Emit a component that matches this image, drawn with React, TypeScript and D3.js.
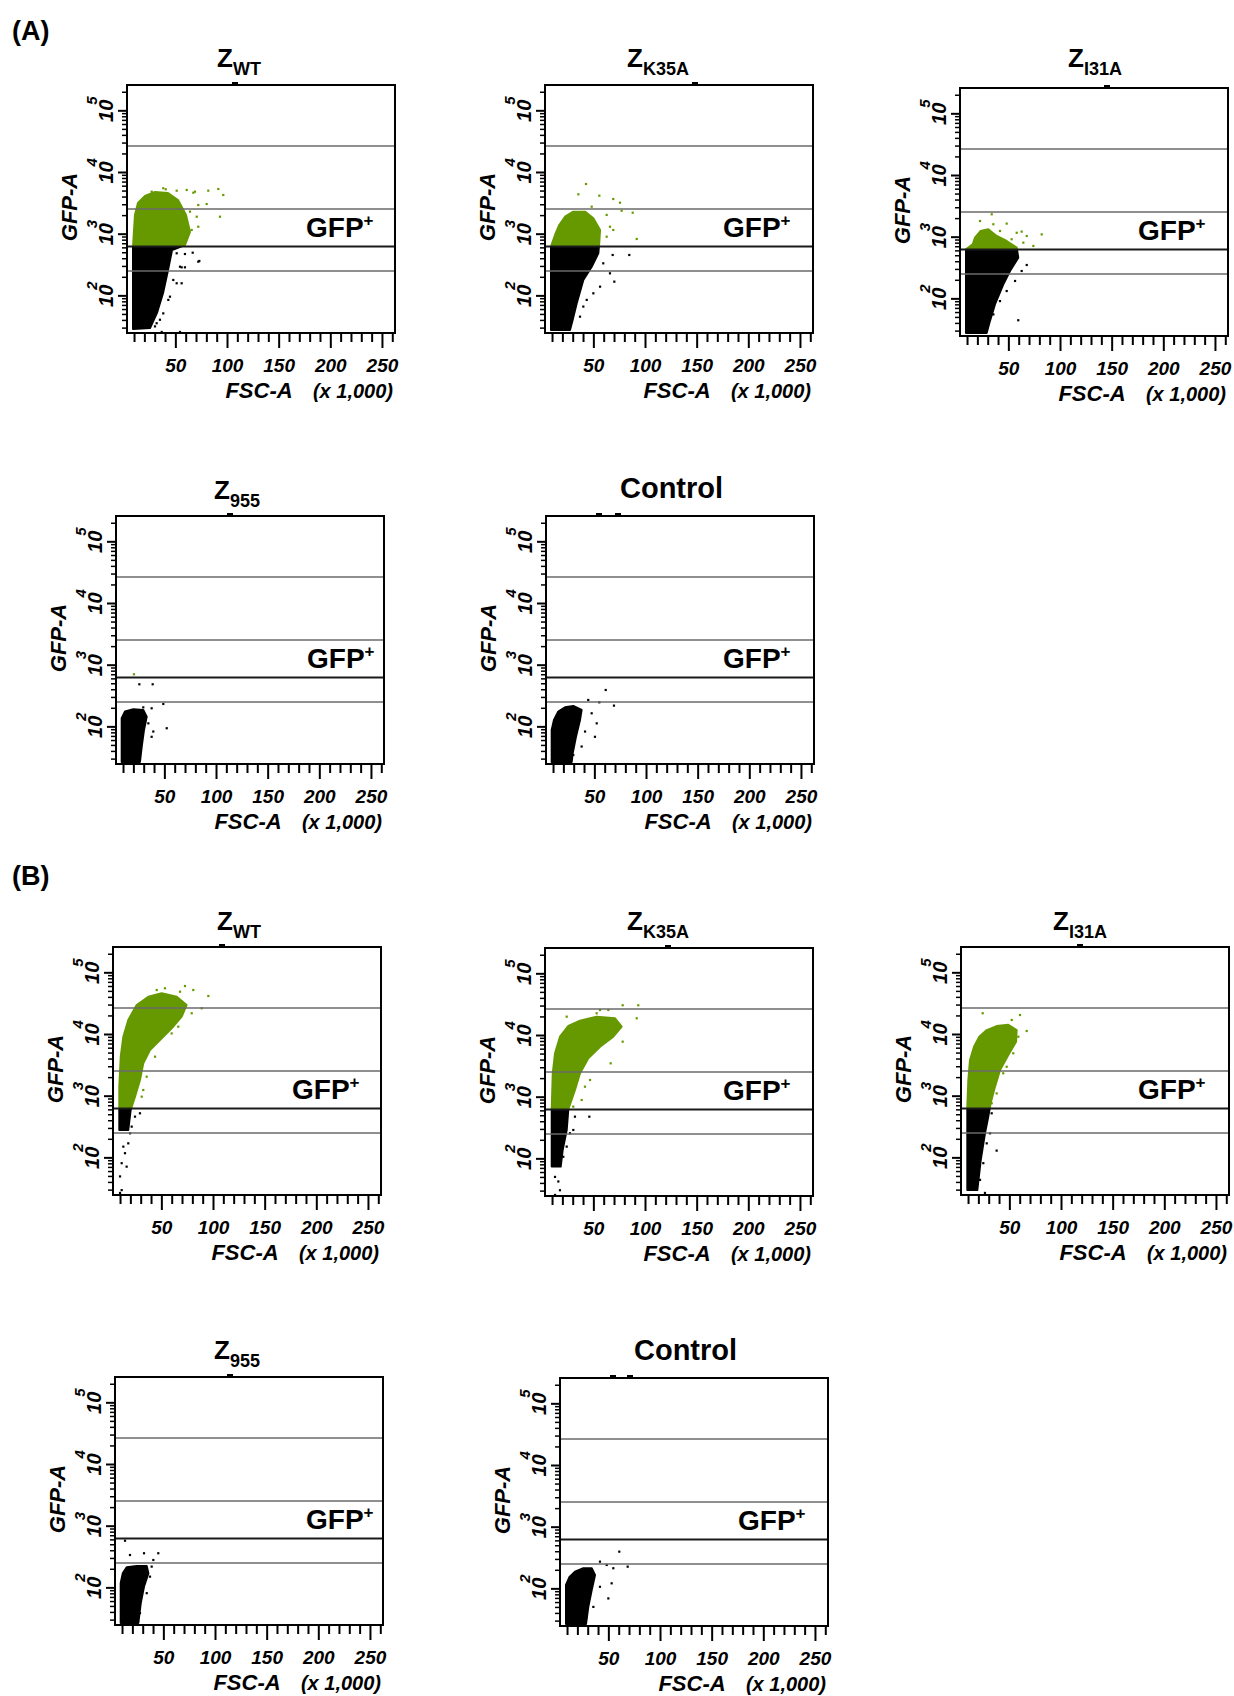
import React from "react";
import * as d3 from "d3";

const width = 1234;
const height = 1696;
const plotW = 268;
const plotH = 248;
const FONT = "'Liberation Sans', Arial, Helvetica, sans-serif";
const GREEN = "#669900";

// axes: FSC-A in thousands (linear), GFP-A raw (log)
const fscDomain = [2.7, 262.144];
const gfpDomain = [25, 262144];
const gateLevels = [26900, 2560, 633, 253];
const gfpCut = 633; // GFP+ lower bound, events above drawn green

const xTickValues = d3.range(10, 261, 10);
const xLabelValues = [50, 100, 150, 200, 250];
const yDecades = [2, 3, 4, 5];
const yMinorTicks = [30, 40, 50, 60, 70, 80, 90, 200, 300, 400, 500, 600, 700, 800, 900,
  2000, 3000, 4000, 5000, 6000, 7000, 8000, 9000, 20000, 30000, 40000, 50000, 60000, 70000,
  80000, 90000, 200000];

// dense populations as outlines [FSC-A (k), GFP-A], sparse events as points

// (A) Z WT
const wtA_cloud = [[8.5, 29], [8.5, 620], [10.4, 2050], [13.3, 3200], [20.1, 4160], [29.8, 4830],
  [42.4, 4650], [52.1, 3580], [59.8, 2050], [63.7, 1085], [58.8, 667], [46.3, 553], [42.4, 262],
  [37.6, 111], [31.7, 53], [25, 30]];
const wtA_events = [[40.2, 5340], [50.8, 5070], [60.5, 5200], [66.9, 4700], [81.4, 5070],
  [91.1, 5400], [95.9, 4320], [92.7, 1920], [71.7, 2970], [70.2, 1920], [65.3, 1170], [79.8, 3080],
  [55.6, 1170], [60.5, 857], [37.8, 5550], [68.5, 4890], [63.7, 2320], [71.7, 1320], [54, 805],
  [26.6, 4890], [18.5, 3820],
  [47.5, 590], [58.8, 477], [66.3, 501], [72.7, 368], [55.6, 290], [58.8, 290], [50.8, 160],
  [55.6, 160], [42.7, 86], [34.6, 41], [54, 26], [36.3, 26], [29.8, 32], [50.8, 490], [54, 297],
  [47.5, 181], [44.3, 97], [37.8, 52], [31.4, 36], [71.7, 358]];

// (A) Z K35A
const k35A_cloud = [[8.5, 28], [8.5, 627], [12.4, 970], [16.5, 1410], [22.1, 1920], [30.1, 2320],
  [41.4, 2320], [49.5, 1810], [56, 1170], [55.3, 755], [54.3, 490], [47.9, 297], [39.8, 181],
  [33.4, 76], [29.5, 41], [26.9, 28]];
const k35A_events = [[42.4, 6510], [35, 4430], [55.3, 4210], [68.8, 3720], [75.3, 3240],
  [47.9, 2790], [76.9, 2400], [87.6, 2230], [62.4, 2050], [65.6, 1320], [68.8, 1170], [91.5, 836],
  [62.4, 910], [52.7, 857], [68.2, 460], [84.3, 460], [59.1, 337], [65.6, 232], [69.8, 170],
  [56, 141], [49.5, 110], [43.1, 86], [39.8, 67], [36.6, 46]];

// (A) Z I31A
const i31A_cloud = [[8.5, 28], [8.5, 637], [15, 767], [17.2, 982], [22.7, 1260], [30.1, 1340],
  [38.2, 1045], [47.9, 867], [57.6, 677], [59.1, 466], [51.1, 283], [44.6, 172], [36.6, 82],
  [31.7, 44], [28.5, 28]];
const i31A_events = [[33.4, 2350], [22.1, 1830], [35, 1620], [47.9, 1660], [62.4, 1230],
  [81.8, 1110], [67.3, 1045], [57.6, 1180], [41.4, 1260], [52.7, 925], [73.7, 720], [64, 815],
  [67.3, 354], [62.4, 283], [56, 195], [59.1, 45], [47.9, 134], [41.4, 92], [35, 56]];

// (A) Z 955
const z955A_cloud = [[8.2, 27], [8.2, 138], [11.4, 177], [19.5, 193], [29.1, 188], [32.4, 146],
  [29.8, 89], [27.6, 48], [25.9, 27]];
const z955A_events = [[20.1, 712], [25.3, 490], [38.2, 490], [48.5, 235], [29.1, 207],
  [37.2, 200], [51.8, 95], [38.8, 84], [37.2, 69], [34, 114]];

// (A) Control
const ctrlA_cloud = [[8.2, 27], [8.2, 89], [10.4, 129], [14.6, 177], [21.1, 208], [29.1, 218],
  [37.2, 188], [35.6, 129], [31.7, 69], [28.5, 37], [27.6, 27]];
const ctrlA_events = [[60.5, 396], [68.5, 221], [54.3, 250], [43.6, 273], [46.9, 166],
  [51.8, 114], [50.1, 69], [37.2, 48], [29.1, 35], [40.5, 84]];

// (B) Z WT
const wtB_cloud = [[8.8, 283], [8.8, 1430], [10.2, 4370], [12.7, 9200], [17.5, 17200],
  [25.6, 30100], [36.9, 41000], [49.8, 46500], [64.4, 41000], [74, 30100], [69.2, 19500],
  [59.5, 12600], [48.2, 8150], [38.5, 5610], [32, 3410], [28.8, 1830], [24, 982], [19.8, 597],
  [17.5, 283]];
const wtB_events = [[72.4, 61100], [80.4, 52600], [95, 42100], [88.6, 26600], [53, 56100],
  [45, 52600], [67.6, 49400], [78.9, 22100], [65.9, 13400], [59.5, 10400], [43.4, 4370],
  [35.3, 2070], [32, 1260], [30.5, 982], [28.8, 528], [24, 466], [20.8, 321], [19.2, 250],
  [17.5, 172], [12.7, 152], [14.3, 119], [11.1, 82], [15.9, 72], [9.5, 50], [11.1, 30], [9.5, 27]];

// (B) Z K35A
const k35B_cloud = [[9.2, 75], [9.2, 637], [10.2, 2440], [12.4, 5140], [17.2, 9570],
  [25.3, 14300], [36.6, 17400], [52.7, 20200], [70.5, 19000], [76.9, 13900], [68.8, 9570],
  [56, 6590], [44.6, 4270], [36.6, 2440], [31.7, 1310], [25.3, 637], [23.7, 294], [19.8, 139],
  [17.9, 75]];
const k35B_events = [[77.9, 30900], [93, 30900], [91.5, 19000], [64, 25900], [56, 25900],
  [23.7, 20200], [77.9, 7940], [66.3, 3540], [46.3, 1900], [41.4, 1480], [38.2, 900], [30.1, 702],
  [52.7, 22900], [45.6, 483], [31.7, 483], [30.1, 294], [26.9, 260], [23.7, 158], [20.4, 108],
  [12.4, 51], [17.2, 31], [12.4, 26], [15.6, 43]];

// (B) Z I31A
const i31B_cloud = [[8.8, 30], [8.8, 677], [9.8, 1830], [11.4, 3860], [15.3, 6340], [20.4, 9200],
  [27.6, 11800], [37.2, 13700], [48.5, 14400], [56.6, 11800], [56, 7640], [48.5, 4660],
  [40.5, 2660], [35.6, 1430], [31.4, 767], [29.1, 466], [25.9, 250], [21.8, 92], [18.5, 30]];
const i31B_events = [[23.7, 22100], [59.8, 20700], [51.8, 17200], [66.3, 11400], [58.2, 9200],
  [53.3, 4960], [46.9, 3000], [43.6, 2350], [37.2, 1110], [32.4, 767], [37.2, 131], [32.4, 528],
  [30.8, 250], [27.6, 172], [24.3, 82], [25.9, 27], [21.1, 44]];

// (B) Z 955
const z955B_cloud = [[8.2, 27], [8.2, 119], [10.2, 172], [14, 216], [23.7, 226], [33.4, 226],
  [35, 172], [30.8, 105], [27.6, 56], [25.3, 27]];
const z955B_events = [[12.4, 582], [17.2, 341], [30.8, 364], [44.6, 364], [39.8, 283],
  [38.2, 221], [36.6, 152], [33.4, 82], [26.9, 39]];

// (B) Control
const ctrlB_cloud = [[8.5, 27], [8.5, 116], [11.7, 154], [17.2, 190], [25.3, 216], [33.4, 216],
  [36.6, 168], [33.4, 96], [30.1, 51], [27.9, 27]];
const ctrlB_events = [[60.1, 401], [68.2, 229], [54.3, 216], [41.4, 276], [47.9, 244],
  [52.7, 123], [49.5, 70], [41.4, 108], [35, 51], [28.5, 35]];

const panels = [
  { id: "a1", name: "Z", sub: "WT", left: 127, top: 85, titleDx: 90, titleDy: -18, labelDx: 179, marks: [108], cloud: wtA_cloud, events: wtA_events },
  { id: "a2", name: "Z", sub: "K35A", left: 545, top: 85, titleDx: 82, titleDy: -18, labelDx: 178, marks: [150], cloud: k35A_cloud, events: k35A_events },
  { id: "a3", name: "Z", sub: "I31A", left: 960, top: 88, titleDx: 108, titleDy: -21, labelDx: 178, marks: [147], cloud: i31A_cloud, events: i31A_events },
  { id: "a4", name: "Z", sub: "955", left: 116, top: 516, titleDx: 98, titleDy: -17, labelDx: 191, marks: [114], cloud: z955A_cloud, events: z955A_events },
  { id: "a5", name: "Control", sub: "", left: 546, top: 516, titleDx: 74, titleDy: -18, labelDx: 177, marks: [53, 72], cloud: ctrlA_cloud, events: ctrlA_events },
  { id: "b1", name: "Z", sub: "WT", left: 113, top: 947, titleDx: 104, titleDy: -17, labelDx: 179, marks: [109], cloud: wtB_cloud, events: wtB_events },
  { id: "b2", name: "Z", sub: "K35A", left: 545, top: 948, titleDx: 82, titleDy: -18, labelDx: 178, marks: [123], cloud: k35B_cloud, events: k35B_events },
  { id: "b3", name: "Z", sub: "I31A", left: 961, top: 947, titleDx: 92, titleDy: -17, labelDx: 177, marks: [119], cloud: i31B_cloud, events: i31B_events },
  { id: "b4", name: "Z", sub: "955", left: 115, top: 1377, titleDx: 99, titleDy: -18, labelDx: 191, marks: [115], cloud: z955B_cloud, events: z955B_events },
  { id: "b5", name: "Control", sub: "", left: 560, top: 1378, titleDx: 74, titleDy: -18, labelDx: 178, marks: [53, 70], cloud: ctrlB_cloud, events: ctrlB_events },
];

const sectionLabels = [
  { text: "(A)", x: 12, y: 40 },
  { text: "(B)", x: 12, y: 885 },
];

function FlowPanel({ p }) {
  const x = d3.scaleLinear().domain(fscDomain).range([0, plotW]);
  const y = d3.scaleLog().domain(gfpDomain).range([plotH, 0]);
  const cutY = y(gfpCut);
  const outline = d3.line()
    .x(d => x(d[0]))
    .y(d => y(d[1]))
    .curve(d3.curveLinearClosed);
  const cloudPath = outline(p.cloud) || "";

  return (
    <g transform={`translate(${p.left},${p.top})`} fontFamily={FONT}>
      <defs>
        <clipPath id={`hi-${p.id}`}>
          <rect x={1} y={1} width={plotW - 2} height={cutY - 1} />
        </clipPath>
        <clipPath id={`lo-${p.id}`}>
          <rect x={1} y={cutY} width={plotW - 2} height={plotH - cutY - 1} />
        </clipPath>
      </defs>

      {/* populations */}
      <path d={cloudPath} fill={GREEN} stroke={GREEN} strokeWidth={2} strokeLinejoin="round"
        clipPath={`url(#hi-${p.id})`} />
      <path d={cloudPath} fill="#000" stroke="#000" strokeWidth={2} strokeLinejoin="round"
        clipPath={`url(#lo-${p.id})`} />
      {p.events.map((d, i) => (
        <rect key={i} x={x(d[0]) - 1.1} y={y(d[1]) - 1.1} width={2.2} height={2.2}
          fill={d[1] > gfpCut ? GREEN : "#000"} />
      ))}

      {/* gates */}
      {gateLevels.map(g => (
        <line key={g} x1={0} x2={plotW} y1={y(g)} y2={y(g)}
          stroke={g === gfpCut ? "#1a1a1a" : "#6a6a6a"} strokeWidth={g === gfpCut ? 2 : 1.5} />
      ))}
      <rect x={0} y={0} width={plotW} height={plotH} fill="none" stroke="#000" strokeWidth={2} />
      {p.marks.map(m => (
        <rect key={m} x={m - 3} y={-3} width={6} height={3} fill="#000" />
      ))}

      {/* x axis */}
      {xTickValues.map(t => (
        <line key={t} x1={x(t)} x2={x(t)} y1={plotH} y2={plotH + (t % 50 === 0 ? 15 : 9)}
          stroke="#000" strokeWidth={2} />
      ))}
      {xLabelValues.map(t => (
        <text key={t} x={x(t)} y={plotH + 39} textAnchor="middle" fontSize={19}
          fontWeight="bold" fontStyle="italic">{t}</text>
      ))}
      <text x={132} y={plotH + 65} textAnchor="middle" fontSize={22} fontWeight="bold"
        fontStyle="italic">FSC-A</text>
      <text x={266} y={plotH + 65} textAnchor="end" fontSize={20} fontWeight="bold"
        fontStyle="italic">(x 1,000)</text>

      {/* y axis */}
      {yMinorTicks.map(t => (
        <line key={t} x1={0} x2={-5} y1={y(t)} y2={y(t)} stroke="#000" strokeWidth={1.5} />
      ))}
      {yDecades.map(e => {
        const ty = y(Math.pow(10, e));
        return (
          <g key={e}>
            <line x1={0} x2={-9} y1={ty} y2={ty} stroke="#000" strokeWidth={2} />
            <text transform={`translate(-14,${ty}) rotate(-90)`} textAnchor="middle" fontSize={20}
              fontWeight="bold" fontStyle="italic">10</text>
            <text transform={`translate(-30,${ty}) rotate(-90)`} x={6} fontSize={15}
              fontWeight="bold" fontStyle="italic">{e}</text>
          </g>
        );
      })}
      <text transform={`translate(-50,${plotH / 2 - 2}) rotate(-90)`} textAnchor="middle"
        fontSize={22} fontWeight="bold" fontStyle="italic">GFP-A</text>

      {/* titles */}
      {p.sub ? (
        <text x={p.titleDx} y={p.titleDy} fontSize={26} fontWeight="bold">
          {p.name}
          <tspan dy={8} fontSize={18}>{p.sub}</tspan>
        </text>
      ) : (
        <text x={p.titleDx} y={p.titleDy} fontSize={29} fontWeight="bold">{p.name}</text>
      )}
      <text x={p.labelDx} y={cutY - 9} fontSize={28} fontWeight="bold">
        GFP<tspan dy={-11} fontSize={17}>+</tspan>
      </text>
    </g>
  );
}

export default function App() {
  return (
    <svg width={width} height={height} viewBox={`0 0 ${width} ${height}`}
      style={{ position: "absolute", left: 0, top: 0, background: "#fff" }}>
      <rect width={width} height={height} fill="#fff" />
      {sectionLabels.map(s => (
        <text key={s.text} x={s.x} y={s.y} fontFamily={FONT} fontSize={27} fontWeight="bold">{s.text}</text>
      ))}
      {panels.map(p => <FlowPanel key={p.id} p={p} />)}
    </svg>
  );
}
